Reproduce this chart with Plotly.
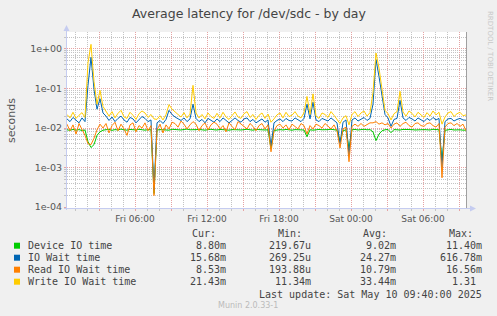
import plotly.graph_objects as go
import pandas as pd

# ---------------- data (milliseconds, 15-minute samples) ----------------
start_time = "2025-05-09 00:20"
n_points = 134

device_ms = [9.0, 8.7, 9.2, 8.8, 9.1, 8.6, 8.9,
             4.5, 3.2, 3.8, 6.5, 8.0,
             8.8, 9.0, 9.3, 8.7, 9.1, 8.9, 9.4, 9.0, 8.8, 9.2, 9.1, 8.9, 9.3, 9.0, 8.8, 9.1, 9.0,
             0.22,
             8.9, 9.1, 9.0, 9.2, 8.8, 9.3, 9.1, 9.0, 8.9, 9.2, 9.4, 9.0, 8.9, 9.1, 9.2, 9.0, 8.8, 9.1, 9.3,
             9.0, 8.9, 9.2, 9.1, 9.0, 8.8, 9.1, 9.2, 9.0, 8.9, 9.1, 9.3, 9.0, 8.8, 9.2, 9.0, 9.1, 8.9, 9.0,
             3.0,
             8.6, 9.0, 9.1, 8.9, 9.2, 9.0, 8.8, 9.1, 9.0, 9.3, 8.9,
             6.0,
             9.0, 8.8, 9.1, 9.2, 9.0, 8.9, 9.1, 9.3, 9.0, 8.8,
             4.5, 8.5, 9.0, 3.0,
             9.0, 9.2, 8.9, 9.1, 9.3, 9.0, 9.1,
             8.0, 4.8, 7.0, 8.5,
             9.0, 9.2,
             7.6,
             9.1, 9.0, 8.9, 9.2, 9.3, 9.0, 9.1, 8.9, 9.0, 9.2, 9.1, 9.0, 8.9, 9.3, 9.1, 9.0,
             1.5,
             8.7, 9.0, 9.2, 8.9, 9.1, 9.0, 8.8, 8.8]

iowait_ms = [17.0, 14.5, 18.5, 15.5, 13.5, 18.0, 14.5,
             120.0, 617.0, 95.0, 30.0, 55.0, 24.0, 20.0,
             15.5, 19.0, 14.5, 17.5, 20.0, 16.0, 14.0, 18.5, 17.0, 13.5, 16.5, 19.5, 17.5, 14.5, 16.0,
             0.27,
             13.5, 15.5, 13.0, 16.5, 28.0, 22.0, 19.0, 17.5, 15.5, 18.0, 14.5, 17.0, 40.0, 17.5, 14.5,
             16.5, 13.5, 17.5, 15.5, 14.0, 17.0, 14.5, 18.0, 15.5, 13.5, 15.5, 18.0, 15.5, 14.0, 17.0,
             18.0, 14.5, 16.5, 13.5, 15.5, 17.0, 14.0, 16.0,
             3.5,
             13.5, 15.5, 17.0, 14.5, 17.5, 15.5, 15.0, 18.0, 16.0, 14.5, 17.5,
             40.0, 17.0, 45.0,
             16.0, 14.5, 17.5, 16.5, 15.0, 18.0, 16.0, 13.5,
             4.0, 14.0, 16.0, 2.0,
             16.0, 18.0, 15.0, 17.0, 18.5, 15.5, 17.5,
             40.0, 540.0, 200.0, 60.0,
             22.0, 18.0,
             11.0,
             16.5, 17.5, 50.0, 18.0, 15.5, 18.5, 17.0, 15.0, 18.0, 16.5, 14.5, 17.5, 15.5, 18.5, 16.0, 17.5,
             1.0,
             14.5, 17.0, 17.5, 15.0, 16.5, 17.5, 16.0, 15.68]

read_ms = [12.5, 8.5, 12.0, 7.0, 13.0, 9.5, 6.5,
           4.0, 3.8, 5.5, 9.0, 12.5,
           10.0, 13.0, 7.5, 11.5, 14.0, 8.5, 12.5, 9.5, 6.5, 12.0, 13.5, 8.0, 11.5, 10.0, 13.5, 8.5, 11.5,
           0.194,
           9.0, 12.5, 7.5, 12.0, 9.5, 14.0, 13.0, 10.5, 15.0, 12.5, 9.5, 12.0, 14.5, 12.5, 8.5, 11.5,
           13.5, 9.0, 12.0, 14.0, 12.5, 9.5, 11.5, 8.0, 13.5, 11.0, 9.0, 14.5, 12.5, 10.5, 9.5, 13.0,
           11.0, 8.5, 11.5, 13.0, 9.5, 12.0,
           2.5,
           8.5, 11.5, 12.5, 10.0, 12.0, 9.0, 12.5, 11.0, 9.5, 13.0, 11.5,
           7.0,
           11.5, 9.5, 12.5, 11.5, 10.0, 13.0, 11.0, 9.5, 12.0, 8.5,
           3.1, 9.5, 10.5, 1.4,
           11.0, 12.5, 11.0, 13.0, 11.0, 12.5, 13.5,
           13.5, 14.5, 12.5, 13.5,
           12.0, 13.0,
           10.0,
           12.5, 13.5, 11.0, 13.0, 14.0, 11.5, 10.5, 13.0, 13.5, 11.5, 11.0, 13.0, 13.5, 11.5, 10.5, 13.0,
           0.55,
           10.5, 13.0, 13.5, 11.5, 13.0, 11.0, 12.5, 8.53]

write_ms = [22.0, 18.0, 25.0, 17.5, 21.0, 24.5, 18.5,
            450.0, 1310.0, 150.0, 40.0, 90.0, 35.0, 26.0,
            20.0, 26.0, 18.0, 23.5, 28.0, 19.0, 17.5, 25.0, 21.0, 16.5, 23.0, 27.0, 24.0, 18.5, 22.0,
            17.0,
            16.5, 20.5, 16.0, 22.0, 39.0, 30.0, 25.0, 22.0, 19.0, 24.5, 18.0, 22.5, 120.0, 24.0, 18.0,
            22.0, 17.0, 24.0, 19.5, 17.5, 23.5, 18.0, 25.0, 19.0, 16.5, 21.0, 25.5, 19.0, 17.5, 23.0,
            26.0, 18.5, 22.0, 16.5, 21.0, 24.0, 17.5, 22.5,
            14.0,
            17.0, 21.5, 24.0, 18.0, 25.0, 19.5, 21.0, 26.0, 20.0, 18.0, 24.5,
            63.0, 22.0, 73.0,
            20.0, 17.5, 24.0, 22.0, 18.5, 26.0, 21.0, 16.5,
            13.0, 18.0, 20.5, 12.0,
            22.0, 26.0, 19.5, 24.0, 27.0, 20.0, 24.5,
            80.0, 790.0, 330.0, 90.0,
            28.0, 23.0,
            16.0,
            23.0, 26.0, 85.0, 25.5, 20.0, 27.0, 23.5, 19.0, 25.0, 22.0, 18.5, 24.5, 20.0, 27.0, 21.5, 25.0,
            12.5,
            19.0, 24.0, 26.0, 19.5, 23.0, 25.0, 20.5, 21.43]

series_names = ["Device IO time", "IO Wait time", "Read IO Wait time", "Write IO Wait time"]
series_colors = ["#00CC00", "#0066B3", "#FF8000", "#FFCC00"]
cur_vals = ["8.80m", "15.68m", "8.53m", "21.43m"]
min_vals = ["219.67u", "269.25u", "193.88u", "11.34m"]
avg_vals = ["9.02m", "24.27m", "10.79m", "33.44m"]
max_vals = ["11.40m", "616.78m", "16.56m", "1.31"]

ytick_vals = [1e-4, 1e-3, 1e-2, 1e-1, 1.0]
ytick_text = ["1e-04", "1e-03", "1e-02", "1e-01", "1e+00"]
xtick_text = ["", "Fri 06:00", "", "Fri 12:00", "", "Fri 18:00", "", "Sat 00:00", "", "Sat 06:00", ""]

title_text = "Average latency for /dev/sdc - by day"
last_update = "Last update: Sat May 10 09:40:00 2025"
version_text = "Munin 2.0.33-1"
watermark = "RRDTOOL / TOBI OETIKER"

# ---------------- figure ----------------
times = pd.date_range(start_time, periods=n_points, freq="15min")
xtick_vals = pd.date_range("2025-05-09 03:00", "2025-05-10 09:00", freq="3h")

W_PX, H_PX = 497, 316
L, T, PW, PH = 67, 32, 400, 176


def px(x):
    return (x - L) / PW


def py(y):
    return (T + PH - y) / PH


fig = go.Figure()
all_series = [device_ms, iowait_ms, read_ms, write_ms]
for name, color, vals in zip(series_names, series_colors, all_series):
    fig.add_trace(go.Scatter(
        x=times, y=[v / 1000.0 for v in vals], mode="lines", name=name,
        line=dict(color=color, width=1), showlegend=False))

MAJ = "#E6A3A3"
MIN = "#C4C4C4"
AXC = "#555555"

fig.update_layout(
    width=W_PX, height=H_PX, autosize=False,
    margin=dict(l=L, r=W_PX - L - PW, t=T, b=H_PX - T - PH, pad=0),
    paper_bgcolor="#F0F0F0", plot_bgcolor="#FFFFFF",
    font=dict(family="DejaVu Sans", size=9, color=AXC),
    xaxis=dict(
        type="date", range=["2025-05-09 00:20", "2025-05-10 09:40"],
        tickmode="array", tickvals=xtick_vals, ticktext=xtick_text,
        showgrid=True, gridcolor=MAJ, griddash="1px,1px", gridwidth=1,
        ticks="outside", ticklen=2, tickcolor=MAJ,
        tickfont=dict(family="DejaVu Sans", size=9, color=AXC),
        minor=dict(dtick=3600000, tick0="2025-05-09 00:00", showgrid=True,
                   gridcolor=MIN, griddash="1px,1px", gridwidth=1,
                   ticks="outside", ticklen=2, tickcolor=MIN),
        showline=False, zeroline=False, fixedrange=True,
    ),
    yaxis=dict(
        type="log", range=[-4.025, 0.43],
        tickmode="array", tickvals=ytick_vals, ticktext=ytick_text,
        showgrid=True, gridcolor=MAJ, griddash="1px,1px", gridwidth=1,
        ticks="outside", ticklen=2, tickcolor=MAJ,
        tickfont=dict(family="DejaVu Sans", size=9.5, color=AXC),
        minor=dict(dtick="D1", showgrid=True, gridcolor=MIN, griddash="1px,1px",
                   gridwidth=1, ticks="outside", ticklen=2, tickcolor=MIN),
        showline=False, zeroline=False, fixedrange=True,
    ),
)

AXL = "#C5CCF0"
shapes = [
    dict(type="line", xref="paper", yref="paper", x0=px(66.5), x1=px(66.5), y0=py(210), y1=py(29),
         line=dict(color=AXL, width=1)),
    dict(type="path", xref="paper", yref="paper",
         path=f"M {px(63.5)} {py(31)} L {px(69.5)} {py(31)} L {px(66.5)} {py(25)} Z",
         fillcolor=AXL, line=dict(color=AXL, width=0)),
    dict(type="line", xref="paper", yref="paper", x0=px(64), x1=px(471), y0=py(208.5), y1=py(208.5),
         line=dict(color=AXL, width=1)),
    dict(type="path", xref="paper", yref="paper",
         path=f"M {px(470)} {py(205.5)} L {px(470)} {py(211.5)} L {px(476)} {py(208.5)} Z",
         fillcolor=AXL, line=dict(color=AXL, width=0)),
    dict(type="line", xref="paper", yref="paper", x0=px(466.5), x1=px(466.5), y0=py(208), y1=py(32),
         line=dict(color="#A0A0A0", width=1)),
]

annotations = []


def add_text(text, x, y, size, color, family="DejaVu Sans", xanchor="center", angle=0):
    annotations.append(dict(
        text=text, x=px(x), y=py(y), xref="paper", yref="paper", showarrow=False,
        xanchor=xanchor, yanchor="middle", textangle=angle, borderpad=0,
        font=dict(family=family, size=size, color=color)))


add_text(title_text, 248.5, 13, 12.5, "#444444")
add_text("seconds", 11, 120, 11, "#555555", angle=-90)
add_text(watermark, 489.5, 56.5, 7, "#C8C8C8", angle=90)

MONO = "DejaVu Sans Mono"
LEG_C = "#444444"
header_x = [190.7, 276.7, 361.7, 447.7]
for hx, h in zip(header_x, ["Cur:", "Min:", "Avg:", "Max:"]):
    add_text(h, hx, 233.3, 10, LEG_C, family=MONO, xanchor="left")

row_y = [245.7, 257.7, 269.7, 281.7]
for i in range(4):
    y = row_y[i]
    shapes.append(dict(type="rect", xref="paper", yref="paper",
                       x0=px(14), x1=px(20), y0=py(y - 3), y1=py(y + 3),
                       fillcolor=series_colors[i], line=dict(width=0)))
    add_text(series_names[i], 26.7, y, 10, LEG_C, family=MONO, xanchor="left")
    add_text(cur_vals[i], 226.7, y, 10, LEG_C, family=MONO, xanchor="right")
    add_text(min_vals[i], 312.3, y, 10, LEG_C, family=MONO, xanchor="right")
    add_text(avg_vals[i], 397.3, y, 10, LEG_C, family=MONO, xanchor="right")
    mx_right = 483.3 if max_vals[i].endswith(("m", "u")) else 477.3
    add_text(max_vals[i], mx_right, y, 10, LEG_C, family=MONO, xanchor="right")

add_text(last_update, 483.3, 294, 10, LEG_C, family=MONO, xanchor="right")
add_text(version_text, 248.3, 305.7, 8, "#BBBBBB")

fig.update_layout(shapes=shapes, annotations=annotations)
fig.write_html("out.html")
